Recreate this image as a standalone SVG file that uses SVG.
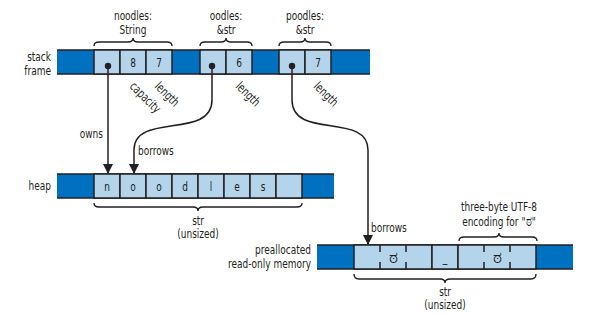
<svg xmlns="http://www.w3.org/2000/svg" width="590" height="315" viewBox="0 0 590 315">
<defs>
<style>
text{font-family:"DejaVu Sans Condensed","Liberation Sans",sans-serif;font-size:12.5px;fill:#231f20;transform-box:fill-box;transform-origin:left center;transform:scaleX(.8)}
.c{text-anchor:middle;transform-origin:center}
.r{text-anchor:end;transform-origin:right center}
.g{font-size:17px;transform:none}
.gs{font-size:14px}
.dark{fill:#0070c0}
.cell{fill:#b3d4eb;stroke:#231f20;stroke-width:1.5}
.edge{stroke:#231f20;stroke-width:1.5}
.br{fill:none;stroke:#231f20;stroke-width:1.4}
.wire{fill:none;stroke:#231f20;stroke-width:1.5}
</style>
<marker id="ah" markerWidth="10" markerHeight="10" viewBox="0 0 10 10" refX="10" refY="5" orient="auto" markerUnits="userSpaceOnUse">
<path d="M0,0 L10,5 L0,10 Z" fill="#231f20"/>
</marker>
</defs>
<rect width="590" height="315" fill="#fff"/>

<g id="stack-frame">
<rect class="dark" x="57" y="50" width="313" height="24"/>
<line class="edge" x1="57" y1="50" x2="370" y2="50"/>
<line class="edge" x1="57" y1="74" x2="370" y2="74"/>
<text class="r" x="51" y="61">stack</text>
<text class="r" x="51" y="75">frame</text>
</g>

<g id="noodles">
<rect class="cell" x="94" y="50" width="26" height="24"/>
<rect class="cell" x="120" y="50" width="26" height="24"/>
<rect class="cell" x="146" y="50" width="26" height="24"/>
<circle cx="108" cy="66" r="3.2" fill="#231f20"/>
<text class="c" x="133" y="67">8</text>
<text class="c" x="159" y="67">7</text>
<path class="br" d="M94,46 Q94,42 99,42 L128,42 Q133,42 133,38 Q133,42 138,42 L167,42 Q172,42 172,46"/>
<text class="c" x="133" y="20">noodles:</text>
<text class="c" x="133" y="34">String</text>
<g transform="translate(129,87) rotate(45)"><text x="0" y="0">capacity</text></g>
<g transform="translate(154,87) rotate(45)"><text x="0" y="0">length</text></g>
</g>

<g id="oodles">
<rect class="cell" x="200" y="50" width="26" height="24"/>
<rect class="cell" x="226" y="50" width="26" height="24"/>
<circle cx="212" cy="66" r="3.2" fill="#231f20"/>
<text class="c" x="239" y="67">6</text>
<path class="br" d="M200,46 Q200,42 205,42 L221,42 Q226,42 226,38 Q226,42 231,42 L247,42 Q252,42 252,46"/>
<text class="c" x="226" y="20">oodles:</text>
<text class="c" x="226" y="34">&amp;str</text>
<g transform="translate(235,87) rotate(45)"><text x="0" y="0">length</text></g>
</g>

<g id="poodles">
<rect class="cell" x="279" y="50" width="26" height="24"/>
<rect class="cell" x="305" y="50" width="26" height="24"/>
<circle cx="292" cy="66" r="3.2" fill="#231f20"/>
<text class="c" x="318" y="67">7</text>
<path class="br" d="M279,46 Q279,42 284,42 L300,42 Q305,42 305,38 Q305,42 310,42 L326,42 Q331,42 331,46"/>
<text class="c" x="305" y="20">poodles:</text>
<text class="c" x="305" y="34">&amp;str</text>
<g transform="translate(313,87) rotate(45)"><text x="0" y="0">length</text></g>
</g>

<g id="heap">
<rect class="dark" x="57" y="174" width="277" height="24"/>
<line class="edge" x1="57" y1="174" x2="334" y2="174"/>
<line class="edge" x1="57" y1="198" x2="334" y2="198"/>
<rect class="cell" x="94" y="174" width="26" height="24"/>
<rect class="cell" x="120" y="174" width="26" height="24"/>
<rect class="cell" x="146" y="174" width="26" height="24"/>
<rect class="cell" x="172" y="174" width="26" height="24"/>
<rect class="cell" x="198" y="174" width="26" height="24"/>
<rect class="cell" x="224" y="174" width="26" height="24"/>
<rect class="cell" x="250" y="174" width="26" height="24"/>
<rect class="cell" x="276" y="174" width="26" height="24"/>
<text class="c" x="107" y="191">n</text>
<text class="c" x="133" y="191">o</text>
<text class="c" x="159" y="191">o</text>
<text class="c" x="185" y="191">d</text>
<text class="c" x="211" y="191">l</text>
<text class="c" x="237" y="191">e</text>
<text class="c" x="263" y="191">s</text>
<text class="r" x="51" y="190">heap</text>
<path class="br" d="M94,203 Q94,207 99,207 L193,207 Q198,207 198,211 Q198,207 203,207 L297,207 Q302,207 302,203"/>
<text class="c" x="198" y="225">str</text>
<text class="c" x="198" y="238">(unsized)</text>
</g>

<g id="prealloc">
<rect class="dark" x="317" y="245" width="256" height="24"/>
<line class="edge" x1="317" y1="245" x2="573" y2="245"/>
<line class="edge" x1="317" y1="269" x2="573" y2="269"/>
<rect class="cell" x="354" y="245" width="78" height="24"/>
<rect class="cell" x="432" y="245" width="26" height="24"/>
<rect class="cell" x="458" y="245" width="78" height="24"/>
<path class="edge" d="M380,245 V252 M380,262 V269 M406,245 V252 M406,262 V269 M484,245 V252 M484,262 V269 M510,245 V252 M510,262 V269"/>
<text class="c g" x="393" y="263">ಠ</text>
<text class="c" x="445" y="262">_</text>
<text class="c g" x="497" y="263">ಠ</text>
<text class="r" x="311" y="254">preallocated</text>
<text class="r" x="311" y="268">read-only memory</text>
<path class="br" d="M459,241 Q459,237 464,237 L494,237 Q499,237 499,233 Q499,237 504,237 L532,237 Q537,237 537,241"/>
<text class="c" x="499" y="211">three-byte UTF-8</text>
<text class="c" x="499" y="226">encoding for "<tspan class="gs">ಠ</tspan>"</text>
<path class="br" d="M354,274 Q354,279 359,279 L440,279 Q445,279 445,283 Q445,279 450,279 L531,279 Q536,279 536,274"/>
<text class="c" x="445" y="296">str</text>
<text class="c" x="445" y="309">(unsized)</text>
</g>

<g id="connectors">
<path class="wire" d="M108,66 V174" marker-end="url(#ah)"/>
<path class="wire" d="M212,66 V100 C212,140 134,112 134,150 V174" marker-end="url(#ah)"/>
<path class="wire" d="M292,66 V100 C292,140 368,112 368,150 V245" marker-end="url(#ah)"/>
<text class="r" x="103" y="138">owns</text>
<text x="138" y="155">borrows</text>
<text x="371" y="232">borrows</text>
</g>
</svg>
